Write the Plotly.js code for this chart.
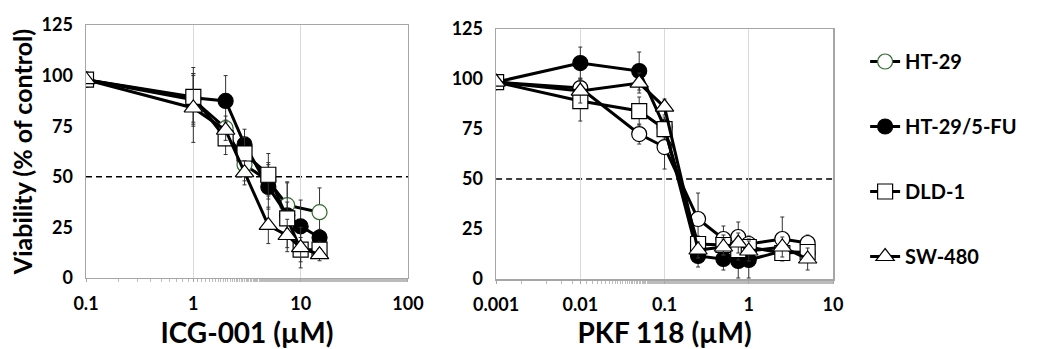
<!DOCTYPE html>
<html>
<head>
<meta charset="utf-8">
<script src="https://cdn.plot.ly/plotly-3.0.1.min.js"></script>
<style>html,body{margin:0;padding:0;background:#fff;}#chart{width:1039px;height:349px;}</style>
</head>
<body>
<div id="chart"></div>
<script>
// ---- data ----
var seriesNames = ["HT-29", "HT-29/5-FU", "DLD-1", "SW-480"];

// ICG-001 panel
var xICG = [0.1, 1, 2, 3, 5, 7.5, 10, 15];
var icgHT29     = [98, 88, 74, 56, 48, 36, null, 32.5];
var icgHT29err  = [0, 12, 6, 8, 9, 11.5, null, 12];
var icg5FU      = [98, 89, 87.5, 66, 45, 31, 25.5, 20];
var icg5FUerr   = [0, 12, 12.5, 7.5, 11, 16, 13, 4];
var icgDLD1     = [98, 89.5, 69, 61.5, 51, 29.5, 14, 14];
var icgDLD1err  = [0, 14.5, 8, 8, 10.5, 8, 6, 4];
var icgSW480    = [98, 84, 73, 52, 26, 21, 15, 11.5];
var icgSW480err = [0, 17, 5, 6, 9, 8, 10, 3];

// PKF 118 panel
var xPKF = [0.001, 0.01, 0.05, 0.1, 0.25, 0.5, 0.75, 1, 2.5, 5];
var pkfHT29     = [98.5, 95.5, 72.5, 66, 30, 20, 21, 17.5, 20, 18];
var pkfHT29err  = [0, 5, 5, 11, 13, 6.5, 7.5, 4, 11, 4];
var pkf5FU      = [98.5, 108, 104, 76, 11.5, 10, 9, 9.5, 14, 13];
var pkf5FUerr   = [0, 8, 9.5, 5, 5.5, 5.5, 8.5, 9, 3, 3];
var pkfDLD1     = [98.5, 89, 84, 75, 17.5, 17, 14.5, 16, 13, 13.5];
var pkfDLD1err  = [0, 10, 7, 5, 4, 5, 5, 4, 3, 3];
var pkfSW480    = [98.5, 94, 98, 86, 14.5, 16, 18, 14, 16, 10];
var pkfSW480err = [0, 6, 5, 4, 4, 4, 5, 5, 5, 5.5];

var yTickVals = [0, 25, 50, 75, 100, 125];
var icgTickVals = [0.1, 1, 10, 100];
var icgTickText = ["0.1", "1", "10", "100"];
var pkfTickVals = [0.001, 0.01, 0.1, 1, 10];
var pkfTickText = ["0.001", "0.01", "0.1", "1", "10"];
var threshold = 50;

// ---- styles ----
var FONT = "Lato, 'Open Sans', sans-serif";
var styles = [
  {symbol: "circle", color: "#ffffff", edgeLeft: "#2e6b2e", edgeRight: "#000000", size: 15},
  {symbol: "circle", color: "#000000", edgeLeft: "#000000", edgeRight: "#000000", size: 15},
  {symbol: "square", color: "#ffffff", edgeLeft: "#000000", edgeRight: "#000000", size: 15},
  {symbol: "triangle-up", color: "#ffffff", edgeLeft: "#000000", edgeRight: "#000000", size: 16}
];

function mk(x, y, err, i, panel) {
  var s = styles[i];
  return {
    type: "scatter", mode: "lines+markers",
    x: x, y: y, connectgaps: true,
    name: seriesNames[i], legendgroup: "g" + i,
    showlegend: panel === 1,
    xaxis: panel === 1 ? "x" : "x2", yaxis: panel === 1 ? "y" : "y2",
    line: {color: "#000", width: 3},
    marker: {symbol: s.symbol, size: s.size, color: s.color,
             line: {color: panel === 1 ? s.edgeLeft : s.edgeRight, width: 1.2}},
    error_y: {type: "data", array: err, visible: true, color: "#333", thickness: 1, width: 2}
  };
}

var data = [
  mk(xICG, icgHT29, icgHT29err, 0, 1),
  mk(xICG, icg5FU, icg5FUerr, 1, 1),
  mk(xICG, icgDLD1, icgDLD1err, 2, 1),
  mk(xICG, icgSW480, icgSW480err, 3, 1),
  mk(xPKF, pkfHT29, pkfHT29err, 0, 2),
  mk(xPKF, pkf5FU, pkf5FUerr, 1, 2),
  mk(xPKF, pkfDLD1, pkfDLD1err, 2, 2),
  mk(xPKF, pkfSW480, pkfSW480err, 3, 2)
];

function xax(dom, vals, text, rng) {
  return {
    type: "log", domain: dom, range: rng,
    tickvals: vals, ticktext: text,
    showgrid: true, gridcolor: "#d9d9d9", gridwidth: 1,
    showline: true, linecolor: "#a6a6a6", linewidth: 1.5, mirror: true,
    ticks: "outside", ticklen: 3, tickcolor: "#a6a6a6",
    minor: {ticks: "outside", ticklen: 3, tickcolor: "#bbbbbb", showgrid: false},
    zeroline: false,
    tickfont: {family: FONT, size: 18, color: "#000", weight: "bold"},
    ticklabelstandoff: 6
  };
}
function yax(dom, anchor) {
  return {
    domain: dom, range: [0, 125], tickvals: yTickVals, anchor: anchor,
    showgrid: false, zeroline: false,
    showline: true, linecolor: "#a6a6a6", linewidth: 1.5, mirror: true,
    ticks: "", ticklabelstandoff: 8,
    tickfont: {family: FONT, size: 18, color: "#000", weight: "bold"}
  };
}

var xa1 = xax([0, 0.431], icgTickVals, icgTickText, [-1, 2]);
xa1.anchor = "y";
xa1.title = {text: "ICG-001 (µM)", font: {family: FONT, size: 28, color: "#000", weight: "bold"}, standoff: 20};
var xa2 = xax([0.549, 1], pkfTickVals, pkfTickText, [-3, 1]);
xa2.anchor = "y2";
xa2.title = {text: "PKF 118 (µM)", font: {family: FONT, size: 28, color: "#000", weight: "bold"}, standoff: 20};
var ya1 = yax([0.004, 1], "x");
ya1.title = {text: "Viability (% of control)", font: {family: FONT, size: 25, color: "#000", weight: "bold"}, standoff: 2};
var ya2 = yax([0, 0.984], "x2");

var layout = {
  width: 1039, height: 349,
  margin: {l: 86, r: 206, t: 25, b: 70},
  paper_bgcolor: "#fff", plot_bgcolor: "#fff",
  showlegend: true,
  legend: {
    x: 1.043, xanchor: "left", xref: "paper", y: 0.933, yanchor: "top",
    font: {family: FONT, size: 20, color: "#000", weight: "bold"},
    tracegroupgap: 36, itemwidth: 30, bgcolor: "rgba(0,0,0,0)"
  },
  xaxis: xa1, yaxis: ya1, xaxis2: xa2, yaxis2: ya2,
  shapes: [
    {type: "line", xref: "x domain", yref: "y", x0: 0, x1: 1, y0: threshold, y1: threshold,
     line: {color: "#000", width: 1.5, dash: "6px,4px"}, layer: "below"},
    {type: "line", xref: "x2 domain", yref: "y2", x0: 0, x1: 1, y0: threshold, y1: threshold,
     line: {color: "#000", width: 1.5, dash: "6px,4px"}, layer: "below"}
  ]
};

Plotly.newPlot("chart", data, layout, {staticPlot: true});
</script>
</body>
</html>
